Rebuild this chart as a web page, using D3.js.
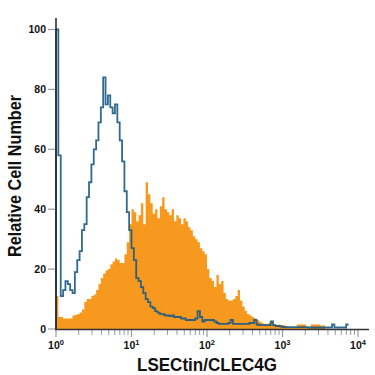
<!DOCTYPE html>
<html>
<head>
<meta charset="utf-8">
<script src="https://cdn.jsdelivr.net/npm/d3@7"></script>
<style>
  body { margin: 0; background: #fff; }
  text { font-family: "Liberation Sans", Arial, sans-serif; }
</style>
</head>
<body>
<div id="chart"></div>
<script>
// 128 log-spaced bins from 10^0 to 10^4 (32 per decade)
const binsPerDecade = 32;

const isotypeCounts = [
  100, 58, 11, 13, 16, 15, 13, 12, 19, 23, 26, 33, 35, 44, 49, 55,
  60, 63, 69, 74, 84, 75, 78, 74, 72, 75, 69, 63, 56, 46, 39, 33,
  27, 23, 17, 16, 14, 12, 10, 9, 7.5, 7, 6, 5.5, 5, 5, 4.5, 4.5,
  4.3, 4.5, 4, 4, 4, 3.5, 3.5, 3, 3, 3, 3, 3.5, 6, 4, 2.5, 3,
  3, 3, 3, 2.5, 2, 1.7, 1.7, 1.7, 1.7, 2, 3, 1.7, 1.7, 1.7, 1.7, 1.7,
  1.7, 1.7, 2, 2, 3, 1.5, 1.3, 1.3, 1.3, 1.3, 1.3, 2.5, 1.3, 1, 1, 0.8,
  0.6, 0.6, 0.6, 0.6, 0.6, 0.6, 0.6, 0.6, 0.6, 0.6, 0.6, 0.5, 0.5, 0.5, 0.5, 0.5,
  0.5, 0.5, 0.5, 0.5, 0.5, 1.5, 0.5, 0.5, 0.5, 0.5, 0.5, 1.5
];

const stainedCounts = [
  11, 4, 4, 3.5, 3.5, 3.5, 3.5, 4.5, 4.7, 5, 5.5, 6.5, 9, 10, 10, 11,
  11.5, 13, 15, 17, 18.5, 19.5, 20, 21.5, 22.5, 23.5, 23, 22, 22, 25, 29, 35,
  40, 39, 36, 38, 42, 35, 49, 45, 42, 38.5, 40, 37, 41, 44, 40, 39,
  38, 40, 36, 38, 37, 35, 37, 36, 34, 33, 31, 30, 29, 27, 26, 25,
  20, 17, 16, 14, 18, 15, 16, 12, 10, 9.5, 9.5, 10, 11, 13, 9.5, 7.5,
  6, 5, 4.5, 4, 3.5, 3, 2.5, 2, 1.7, 1.7, 2, 2.5, 1.5, 1.3, 1.5, 1.3,
  1.3, 1, 0.5, 0.5, 0.3, 0.3, 1.5, 1.5, 1.5, 1.5, 0.3, 0.3, 1.5, 1.5, 1.5, 1.5,
  1.2, 1.2, 0, 0, 0, 0, 0, 0, 0, 0, 0, 0, 0, 0, 0, 0
];

const yTicks = [0, 20, 40, 60, 80, 100];
const xMajorTicks = [1, 10, 100, 1000, 10000];
const xTitle = "LSECtin/CLEC4G";
const yTitle = "Relative Cell Number";

const width = 375, height = 375;

const svg = d3.select("#chart").append("svg")
    .attr("width", width)
    .attr("height", height);

const x = d3.scaleLog().domain([1, 10000]).range([56, 358]);
const y = d3.scaleLinear().domain([0, 100]).range([329, 29.5]);

function stepPoints(counts) {
    let pts = [[1, 0]];
    counts.forEach((c, i) => pts.push([Math.pow(10, i / binsPerDecade), c]));
    pts.push([Math.pow(10, counts.length / binsPerDecade), counts[counts.length - 1]]);
    return pts;
}

// filled stained histogram
const area = d3.area()
    .x(d => x(d[0]))
    .y0(y(0))
    .y1(d => y(d[1]))
    .curve(d3.curveStepAfter);

svg.append("path")
    .datum(stepPoints(stainedCounts))
    .attr("d", area)
    .attr("fill", "#f7991f");

// isotype control outline
const line = d3.line()
    .x(d => x(d[0]))
    .y(d => y(d[1]))
    .curve(d3.curveStepAfter);

svg.append("path")
    .datum(stepPoints(isotypeCounts))
    .attr("d", line)
    .attr("fill", "none")
    .attr("stroke", "#195a84")
    .attr("stroke-opacity", 0.9)
    .attr("stroke-width", 1.8);

// x ticks: minor + major
let minor = [];
for (let k = 0; k < 4; k++) {
    for (let m = 2; m <= 9; m++) minor.push(m * Math.pow(10, k));
}

svg.append("g").selectAll("line.minor")
    .data(minor)
    .enter()
    .append("line")
    .attr("x1", d => x(d)).attr("x2", d => x(d))
    .attr("y1", 330).attr("y2", 335)
    .attr("stroke", "#9a9a9a")
    .attr("stroke-width", 1);

svg.append("g").selectAll("line.major")
    .data(xMajorTicks)
    .enter()
    .append("line")
    .attr("x1", d => x(d)).attr("x2", d => x(d))
    .attr("y1", 330).attr("y2", 337)
    .attr("stroke", "#9a9a9a")
    .attr("stroke-width", 1.2);

const xl = svg.append("g").selectAll("text")
    .data(xMajorTicks)
    .enter()
    .append("text")
    .attr("x", d => x(d))
    .attr("y", 349)
    .attr("text-anchor", "middle")
    .style("font-size", "10.5px")
    .style("font-weight", "bold")
    .style("fill", "#111");
xl.append("tspan").text("10");
xl.append("tspan")
    .attr("dy", -4)
    .style("font-size", "7.5px")
    .text(d => Math.round(Math.log10(d)));

// y ticks
svg.append("g").selectAll("line")
    .data(yTicks)
    .enter()
    .append("line")
    .attr("x1", 48).attr("x2", 56)
    .attr("y1", d => y(d)).attr("y2", d => y(d))
    .attr("stroke", "#9a9a9a")
    .attr("stroke-width", 1.2);

svg.append("g").selectAll("text")
    .data(yTicks)
    .enter()
    .append("text")
    .attr("x", 46)
    .attr("y", d => y(d) + 3.8)
    .attr("text-anchor", "end")
    .style("font-size", "10.5px")
    .style("font-weight", "bold")
    .style("fill", "#111")
    .text(d => d);

// axis lines
svg.append("line")
    .attr("x1", 56).attr("x2", 56)
    .attr("y1", 18).attr("y2", 330)
    .attr("stroke", "#222")
    .attr("stroke-width", 1.5);

svg.append("line")
    .attr("x1", 55).attr("x2", 369)
    .attr("y1", 329.5).attr("y2", 329.5)
    .attr("stroke", "#333")
    .attr("stroke-width", 1.5);

// titles
svg.append("text")
    .attr("x", 207)
    .attr("y", 371)
    .attr("text-anchor", "middle")
    .attr("textLength", 140)
    .attr("lengthAdjust", "spacingAndGlyphs")
    .style("font-size", "19px")
    .style("font-weight", "bold")
    .style("fill", "#111")
    .text(xTitle);

svg.append("text")
    .attr("transform", "translate(21,176) rotate(-90)")
    .attr("text-anchor", "middle")
    .attr("textLength", 162)
    .attr("lengthAdjust", "spacingAndGlyphs")
    .style("font-size", "18px")
    .style("font-weight", "bold")
    .style("fill", "#111")
    .text(yTitle);
</script>
</body>
</html>
